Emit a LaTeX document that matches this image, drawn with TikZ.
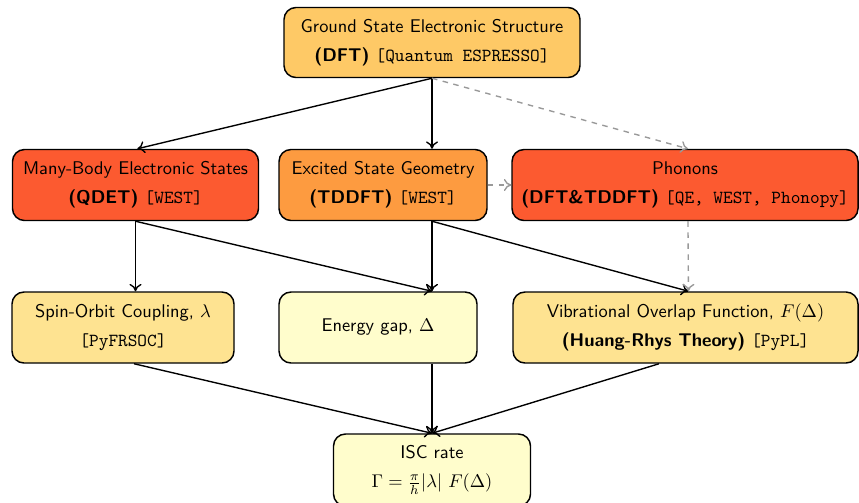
\documentclass[tikz,border=0pt]{standalone}
\usepackage{fontspec}
\usetikzlibrary{calc,arrows.meta}
\definecolor{cTop}{HTML}{FEC966}
\definecolor{cRed}{HTML}{FC5A30}
\definecolor{cOrange}{HTML}{FD9B40}
\definecolor{cYel}{HTML}{FEE391}
\definecolor{cPale}{HTML}{FFFDCC}
\begin{document}
\begin{tikzpicture}[x=0.5435pt,y=-0.5435pt,
  box/.style={draw=black, line width=0.8pt, rounded corners=6.5pt, align=center,
    font=\sffamily, inner sep=0pt, minimum height={71*0.5435pt}},
  arr/.style={-{To[length=4pt,width=6.5pt]}, line width=0.75pt, black},
  darr/.style={-{To[length=4pt,width=6.5pt]}, dashed, gray!80, line width=0.75pt}]
\useasboundingbox (0,0) rectangle (859,502);
% nodes
\node[box, fill=cTop, minimum width={296*0.5435pt}, minimum height={70*0.5435pt}] (top) at (432,42.5)
  {Ground State Electronic Structure\\[3.8pt]\textbf{(DFT)} \texttt{[Quantum ESPRESSO]}};
\node[box, fill=cRed, minimum width={246*0.5435pt}] (mb) at (135.5,185)
  {Many-Body Electronic States\\[3.8pt]\textbf{(QDET)} \texttt{[WEST]}};
\node[box, fill=cOrange, minimum width={208*0.5435pt}] (exc) at (383,185)
  {Excited State Geometry\\[3.8pt]\textbf{(TDDFT)} \texttt{[WEST]}};
\node[box, fill=cRed, minimum width={346*0.5435pt}] (pho) at (685,185)
  {Phonons\\[3.8pt]\textbf{(DFT\&TDDFT)} \texttt{[QE, WEST, Phonopy]}};
\node[box, fill=cYel, minimum width={222*0.5435pt}] (soc) at (123,327.5)
  {Spin-Orbit Coupling, $\lambda$\\[3.8pt]\texttt{[PyFRSOC]}};
\node[box, fill=cPale, minimum width={198*0.5435pt}] (gap) at (378,327.5)
  {Energy gap, $\Delta$};
\node[box, fill=cYel, minimum width={345*0.5435pt}] (vib) at (685.5,327.5)
  {Vibrational Overlap Function, $F(\Delta)$\\[3.8pt]\textbf{(Huang-Rhys Theory)} \texttt{[PyPL]}};
\node[box, fill=cPale, minimum width={197*0.5435pt}, minimum height={72*0.5435pt}] (isc) at (432,470)
  {ISC rate\\[3.8pt]$\Gamma = \frac{\pi}{h}|\lambda|\ F(\Delta)$};
% connectors
\draw[arr] (top.south) -- ([xshift=1pt]mb.north);
\draw[arr] (top.south) -- (top.south |- exc.north);
\draw[darr] (top.south) -- ([xshift=1.6pt]pho.north);
\draw[darr] (exc.east) -- (pho.west);
\draw[arr] (mb.south) -- (mb.south |- soc.north);
\draw[arr] (mb.south) -- (top.south |- gap.north);
\draw[arr] (exc.south -| top.south) -- (top.south |- gap.north);
\draw[arr] (exc.south -| top.south) -- ([xshift=1.6pt]vib.north);
\draw[darr] ([xshift=1.6pt]pho.south) -- ([xshift=1.6pt]vib.north);
\draw[arr] ([xshift=6pt]soc.south) -- (isc.north);
\draw[arr] (gap.south -| top.south) -- (isc.north);
\draw[arr] ([xshift=-14.4pt]vib.south) -- (isc.north);
\end{tikzpicture}
\end{document}
